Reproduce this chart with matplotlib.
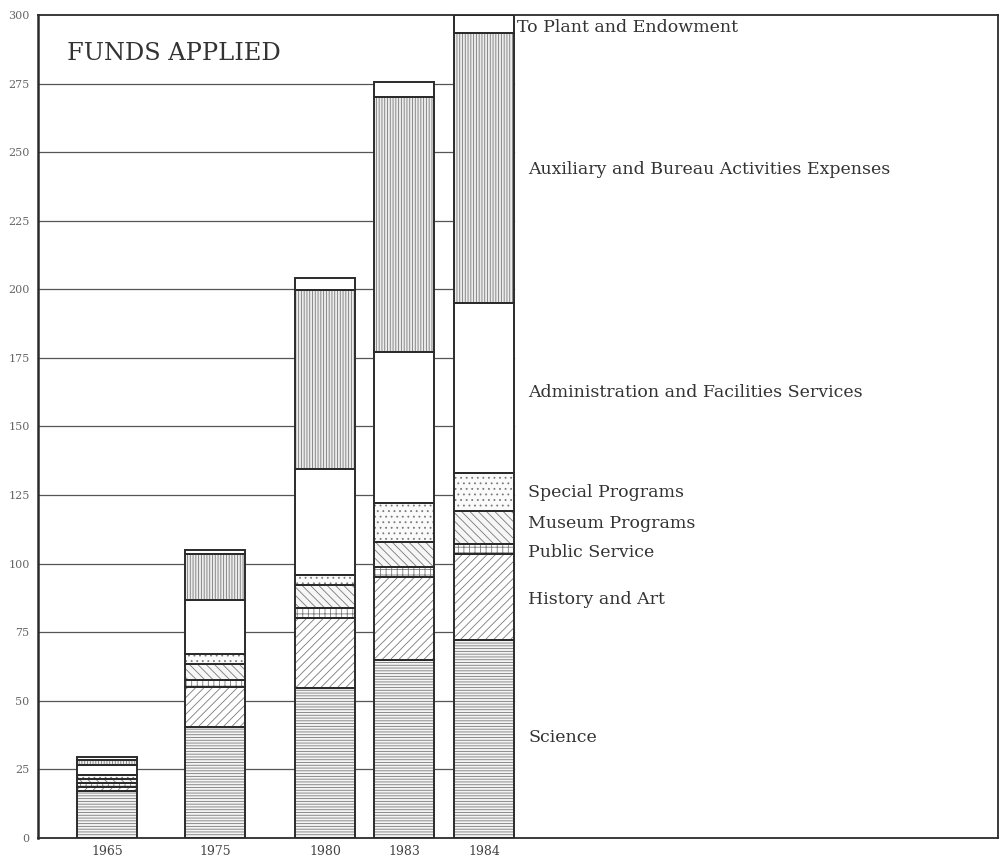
import numpy as np
import matplotlib.pyplot as plt

# funds applied, millions of dollars
years = ["1965", "1975", "1980", "1983", "1984"]
categories = [
    "Science",
    "History and Art",
    "Public Service",
    "Museum Programs",
    "Special Programs",
    "Administration and Facilities Services",
    "Auxiliary and Bureau Activities Expenses",
    "To Plant and Endowment",
]
science = [17.0, 40.5, 54.6, 64.8, 72.0]
history_art = [1.7, 14.7, 25.5, 30.5, 31.5]
public_service = [1.2, 2.4, 3.6, 3.6, 3.5]
museum = [1.6, 5.8, 8.5, 9.1, 12.0]
special = [1.4, 3.7, 3.7, 14.2, 14.0]
admin = [3.7, 19.7, 38.6, 55.1, 62.0]
auxiliary = [2.0, 16.7, 65.3, 92.9, 98.5]
plant = [0.9, 1.5, 4.4, 5.5, 6.5]
yticks = list(range(0, 301, 25))

series = [science, history_art, public_service, museum, special, admin, auxiliary, plant]

# layout
xpos = np.array([69, 177, 287, 366, 446])
bar_w = 60
hatches = ["------", "////", "+++", "\\\\\\\\", "...", "", "||||||", ""]
fills = ["#f4f4f4", "white", "white", "#f6f6f6", "#fafafa", "white", "#ececec", "white"]
label_y = [36.8, 86.8, 103.9, 114.8, 125.8, 162.2, 243.5, 295.5]
label_x = [528, 528, 528, 528, 528, 528, 528, 517]

plt.rcParams["hatch.linewidth"] = 0.6
serif = ["DejaVu Serif", "Liberation Serif"]
ink = "#2b2b2b"

fig = plt.figure(figsize=(10, 8.63), dpi=100)
ax = fig.add_axes([0.038, 0.029, 0.96, 0.9537])
ax.set_xlim(0, 960)
ax.set_ylim(0, 300)

# grid lines only run across the bar area
for v in yticks[1:-1]:
    ax.plot([0, xpos[-1] + bar_w / 2], [v, v], color="#555555", lw=0.9, zorder=1)

bottom = np.zeros(len(years))
for vals, h, fc in zip(series, hatches, fills):
    vals = np.array(vals)
    ax.bar(xpos, vals, width=bar_w, bottom=bottom, color=fc, hatch=h,
           edgecolor="#7a7a7a", linewidth=0, zorder=2)
    ax.bar(xpos, vals, width=bar_w, bottom=bottom, fill=False,
           edgecolor=ink, linewidth=1.4, zorder=3)
    bottom += vals

for name, lx, ly in zip(categories, label_x, label_y):
    ax.text(lx - 38, ly, name, fontsize=12.5, family=serif, color="#333333",
            va="center", ha="left")

ax.text(67 - 38, 286, "FUNDS APPLIED", fontsize=17.3, family=serif, color="#333333",
        va="center", ha="left")

ax.set_xticks(xpos)
ax.set_xticklabels(years, family=serif, fontsize=9, color="#444444")
ax.set_yticks(yticks)
ax.set_yticklabels([str(t) for t in yticks], family=serif, fontsize=8, color="#666666")
ax.tick_params(length=0)
ax.tick_params(axis="y", pad=6)
ax.tick_params(axis="x", pad=5)

for s in ax.spines.values():
    s.set_color(ink)
    s.set_linewidth(1.3)
ax.spines["left"].set_linewidth(1.8)

fig.savefig("out.png", dpi=100)
